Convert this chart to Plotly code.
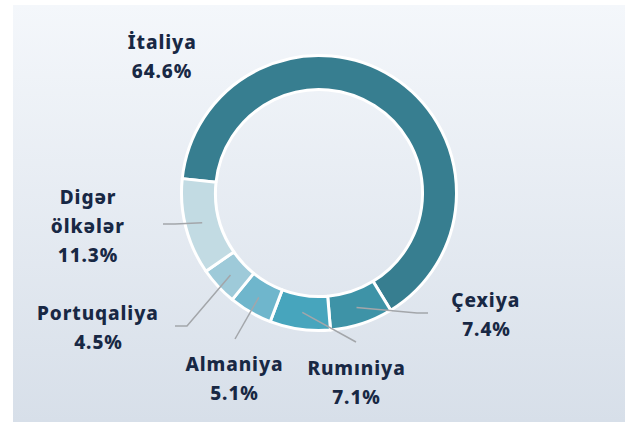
import math
import plotly.graph_objects as go

# ---------------- data ----------------
categories = ["İtaliya", "Çexiya", "Rumıniya", "Almaniya", "Portuqaliya", "Digər ölkələr"]
shares = [64.6, 7.4, 7.1, 5.1, 4.5, 11.3]
pct_labels = ["64.6%", "7.4%", "7.1%", "5.1%", "4.5%", "11.3%"]

# ---------------- style / layout ----------------
colors = ["#377e90", "#3e93a7", "#47a5bd", "#6fb6cc", "#9ecad9", "#c2dbe3"]
W, H = 626, 422
CX, CY = 319, 193          # donut centre in pixels
R_OUT = 137.5              # outer radius in pixels
HOLE = 0.753
START_DEG = 174            # math angle where the first slice begins (clockwise)
TEXT_COLOR = "#182844"
LINE_COLOR = "#a3a6aa"
FONT = "Noto Sans"
FONT_SIZE = 19
LINE_GAP = 29

# label centre (x, y of first line) and leader-line path after its start point
label_layout = {
    "İtaliya":       {"pos": (162, 42),  "line": None},
    "Çexiya":        {"pos": (486, 300), "line": [(417, 313), (428, 313)]},
    "Rumıniya":      {"pos": (356, 368), "line": [(356, 342)]},
    "Almaniya":      {"pos": (234, 364), "line": [(235, 339)]},
    "Portuqaliya":   {"pos": (98, 313),  "line": [(187, 326), (175, 326)]},
    "Digər ölkələr": {"pos": (88, 197),  "line": [(175, 224), (163, 224)]},
}

fig = go.Figure()

# background panel with vertical gradient
fig.add_trace(go.Scatter(
    x=[13, 625, 625, 13, 13], y=[5, 5, H, H, 5],
    mode="lines", line=dict(width=0), fill="toself",
    fillgradient=dict(type="vertical", start=5, stop=H,
                      colorscale=[[0, "#f4f7fb"], [1, "#d7dfe9"]]),
    hoverinfo="skip", showlegend=False,
))

# donut
fig.add_trace(go.Pie(
    labels=categories, values=shares, sort=False, direction="clockwise",
    rotation=90 - START_DEG, hole=HOLE, textinfo="none", hoverinfo="label+percent",
    marker=dict(colors=colors, line=dict(color="white", width=3)),
    domain=dict(x=[(CX - R_OUT) / W, (CX + R_OUT) / W],
                y=[(H - CY - R_OUT) / H, (H - CY + R_OUT) / H]),
    showlegend=False,
))

shapes = []
annotations = []
total = sum(shares)
cum = 0.0
r_mid = R_OUT * (1 + HOLE) / 2
for name, val, pct in zip(categories, shares, pct_labels):
    mid = math.radians(START_DEG - (cum + val / 2) / total * 360)
    cum += val
    cfg = label_layout[name]
    if cfg["line"]:
        sx = CX + r_mid * math.cos(mid)
        sy = CY - r_mid * math.sin(mid)
        pts = [(sx, sy)] + cfg["line"]
        path = "M " + " L ".join(f"{px:.1f},{py:.1f}" for px, py in pts)
        shapes.append(dict(type="path", path=path, xref="x", yref="y", layer="above",
                           line=dict(color=LINE_COLOR, width=1.5)))
    lx, ly = cfg["pos"]
    lines = name.split(" ") + [pct]
    for i, t in enumerate(lines):
        annotations.append(dict(
            x=lx, y=ly + i * LINE_GAP, xref="x", yref="y", text=t, showarrow=False,
            xanchor="center", yanchor="middle",
            font=dict(family=FONT, size=FONT_SIZE, color=TEXT_COLOR, weight=800),
        ))

fig.update_layout(
    width=W, height=H, margin=dict(l=0, r=0, t=0, b=0),
    paper_bgcolor="white", plot_bgcolor="rgba(0,0,0,0)",
    xaxis=dict(range=[0, W], visible=False, fixedrange=True),
    yaxis=dict(range=[H, 0], visible=False, fixedrange=True),
    shapes=shapes, annotations=annotations,
)

post = ("document.body.style.margin='0';"
        "document.querySelectorAll('.annotation-text').forEach(function(t){t.style.letterSpacing='0.9px';});")
fig.write_html("out.html", post_script=post, config={"displayModeBar": False})
